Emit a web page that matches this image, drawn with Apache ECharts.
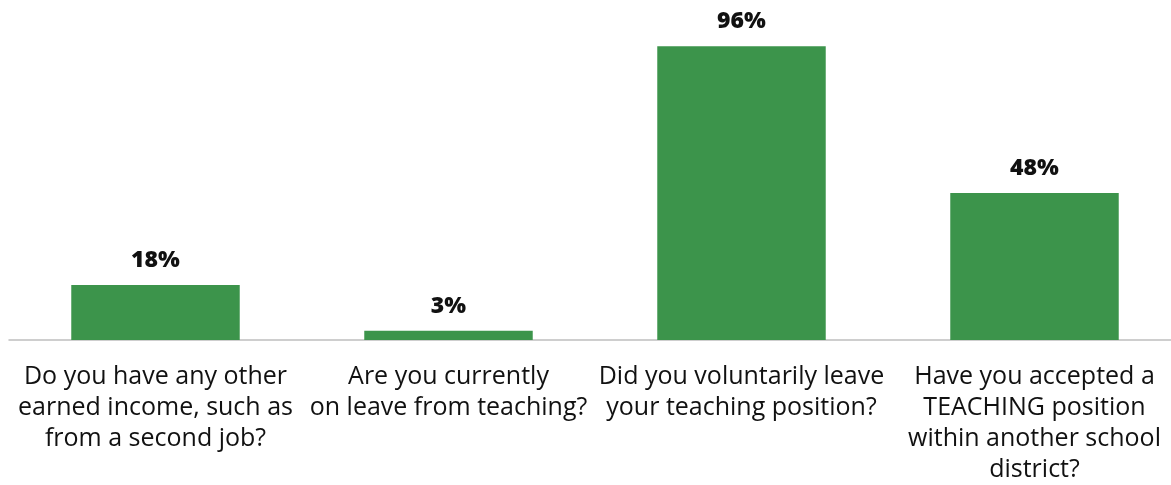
<!DOCTYPE html>
<html>
<head>
<meta charset="utf-8">
<script src="https://cdn.jsdelivr.net/npm/echarts@6/dist/echarts.min.js"></script>
<style>
  html, body { margin: 0; padding: 0; background: #fff; overflow: hidden; }
  #main { width: 1190px; height: 485px; }
</style>
</head>
<body>
<div id="main"></div>
<script>
// questions and share answering yes (%)
const categories = [
  'Do you have any other\nearned income, such as\nfrom a second job?',
  'Are you currently\non leave from teaching?',
  'Did you voluntarily leave\nyour teaching position?',
  'Have you accepted a\nTEACHING position\nwithin another school\ndistrict?'
];
const values = [18, 3, 96, 48];

let myChart = echarts.init(document.getElementById('main'));
let option = {
  animation: false,
  grid: { left: 9, right: 9, top: 34, bottom: 141 },
  xAxis: {
    type: 'category',
    data: categories,
    axisLine: { lineStyle: { color: '#bfbfbf', width: 1.5 } },
    axisTick: { show: false },
    axisLabel: {
      interval: 0,
      margin: 21,
      color: '#111',
      fontFamily: 'Open Sans',
      fontSize: 25,
      lineHeight: 31,
      align: 'center'
    }
  },
  yAxis: {
    type: 'value',
    min: 0,
    max: 100,
    show: false,
    splitLine: { show: false }
  },
  series: [
    {
      type: 'bar',
      data: values,
      barWidth: '57.5%',
      itemStyle: { color: '#3c944b' },
      label: {
        show: true,
        position: 'top',
        distance: 13,
        formatter: '{c}%',
        color: '#111',
        fontFamily: 'Open Sans',
        fontWeight: 800,
        fontSize: 23
      }
    }
  ]
};
myChart.setOption(option);
</script>
</body>
</html>
